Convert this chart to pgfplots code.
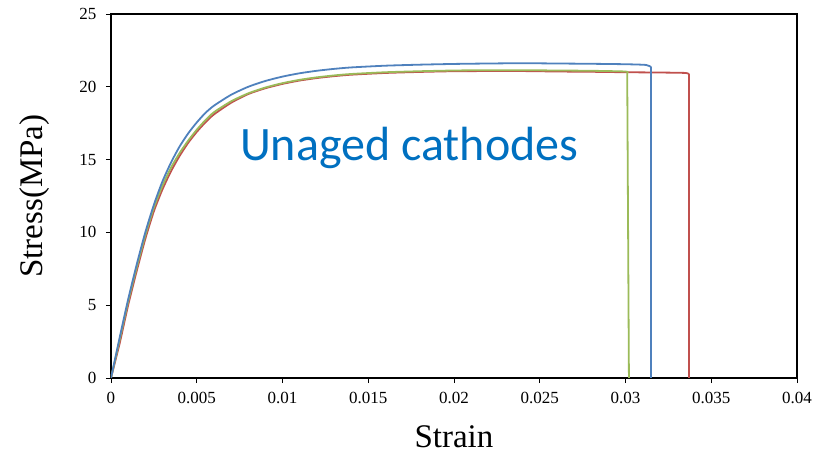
\documentclass[border=0pt]{standalone}
\usepackage{pgfplots}
\pgfplotsset{compat=1.18}
\usepackage{fontspec}
\setmainfont{Liberation Serif}
\newfontfamily\calibri{Carlito}
\definecolor{serblue}{HTML}{4F81BD}
\definecolor{serred}{HTML}{C0504D}
\definecolor{sergreen}{HTML}{9BBB59}
\definecolor{notecol}{HTML}{0070C0}

% stress-strain curves of three unaged cathode samples (loading part)
\pgfplotstableread{
strain stress
0       0
0.0005  2.75
0.001   5.4
0.0015  7.8
0.002   10.0
0.0025  11.9
0.003   13.5
0.0035  14.8
0.004   15.9
0.0045  16.8
0.005   17.55
0.0055  18.2
0.006   18.7
0.007   19.45
0.008   20.0
0.009   20.4
0.010   20.7
0.011   20.93
0.012   21.1
0.013   21.23
0.014   21.33
0.016   21.45
0.018   21.52
0.020   21.57
0.022   21.6
0.024   21.62
0.026   21.6
0.028   21.58
0.030   21.55
0.0312  21.5
0.0315  21.35
}\sampleA

\pgfplotstableread{
strain stress
0       0
0.0005  2.35
0.001   5.0
0.0015  7.35
0.002   9.55
0.0025  11.45
0.003   12.95
0.0035  14.2
0.004   15.25
0.0045  16.15
0.005   16.9
0.0055  17.55
0.006   18.1
0.007   18.9
0.008   19.5
0.009   19.9
0.010   20.2
0.011   20.43
0.012   20.6
0.013   20.73
0.014   20.83
0.016   20.95
0.018   21.02
0.020   21.07
0.022   21.08
0.024   21.08
0.026   21.05
0.028   21.03
0.030   21.0
0.032   20.98
0.0335  20.95
0.0337  20.85
}\sampleB

\pgfplotstableread{
strain stress
0       0
0.0005  2.6
0.001   5.25
0.0015  7.6
0.002   9.8
0.0025  11.7
0.003   13.2
0.0035  14.45
0.004   15.45
0.0045  16.3
0.005   17.05
0.0055  17.7
0.006   18.25
0.007   19.0
0.008   19.55
0.009   19.95
0.010   20.25
0.011   20.48
0.012   20.65
0.013   20.78
0.014   20.88
0.016   21.0
0.018   21.07
0.020   21.12
0.022   21.14
0.024   21.14
0.026   21.12
0.028   21.1
0.030   21.05
0.0301  20.95
}\sampleC

\begin{document}
\begin{tikzpicture}
\useasboundingbox (-111pt,-77pt) rectangle (712pt,378pt);
\begin{axis}[
  at={(0,0)}, anchor=south west,
  scale only axis, width=686pt, height=364pt,
  xmin=0, xmax=0.04, ymin=0, ymax=25,
  scaled x ticks=false,
  xtick={0,0.005,0.01,0.015,0.02,0.025,0.03,0.035,0.04},
  xticklabels={0,0.005,0.01,0.015,0.02,0.025,0.03,0.035,0.04},
  ytick={0,5,10,15,20,25},
  tick align=outside, xtick pos=left, ytick pos=left,
  major tick length=5pt,
  tick style={black, line width=0.8pt},
  axis line style={black, line width=1.8pt},
  /pgf/number format/assume math mode=true,
  ticklabel style={font=\fontsize{17}{17}\selectfont},
  xticklabel style={yshift=-6pt},
  yticklabel style={xshift=-6pt},
  xlabel={Strain}, ylabel={Stress(MPa)},
  label style={font=\fontsize{33}{33}\selectfont},
  xlabel style={at={(axis description cs:0.5,-0.1621)}, anchor=center},
  ylabel style={at={(axis description cs:-0.1108,0.5)}, anchor=center},
  every axis plot/.append style={line width=1.8pt, line join=round},
]
% loading curves
\addplot[serred, smooth, tension=0.4]   table[x=strain, y=stress] {\sampleB};
\addplot[sergreen, smooth, tension=0.4] table[x=strain, y=stress] {\sampleC};
\addplot[serblue, smooth, tension=0.4]  table[x=strain, y=stress] {\sampleA};
% failure drops
\addplot[serred]   coordinates {(0.0337,20.85) (0.0337,0)};
\addplot[sergreen] coordinates {(0.0301,20.95) (0.0302,0)};
\addplot[serblue]  coordinates {(0.0315,21.35) (0.0315,0)};
\node[anchor=base west, inner sep=0pt, text=notecol,
      font=\calibri\fontsize{48}{48}\selectfont]
  at (axis cs:0.00752,14.97) {Unaged cathodes};
\end{axis}
\end{tikzpicture}
\end{document}
